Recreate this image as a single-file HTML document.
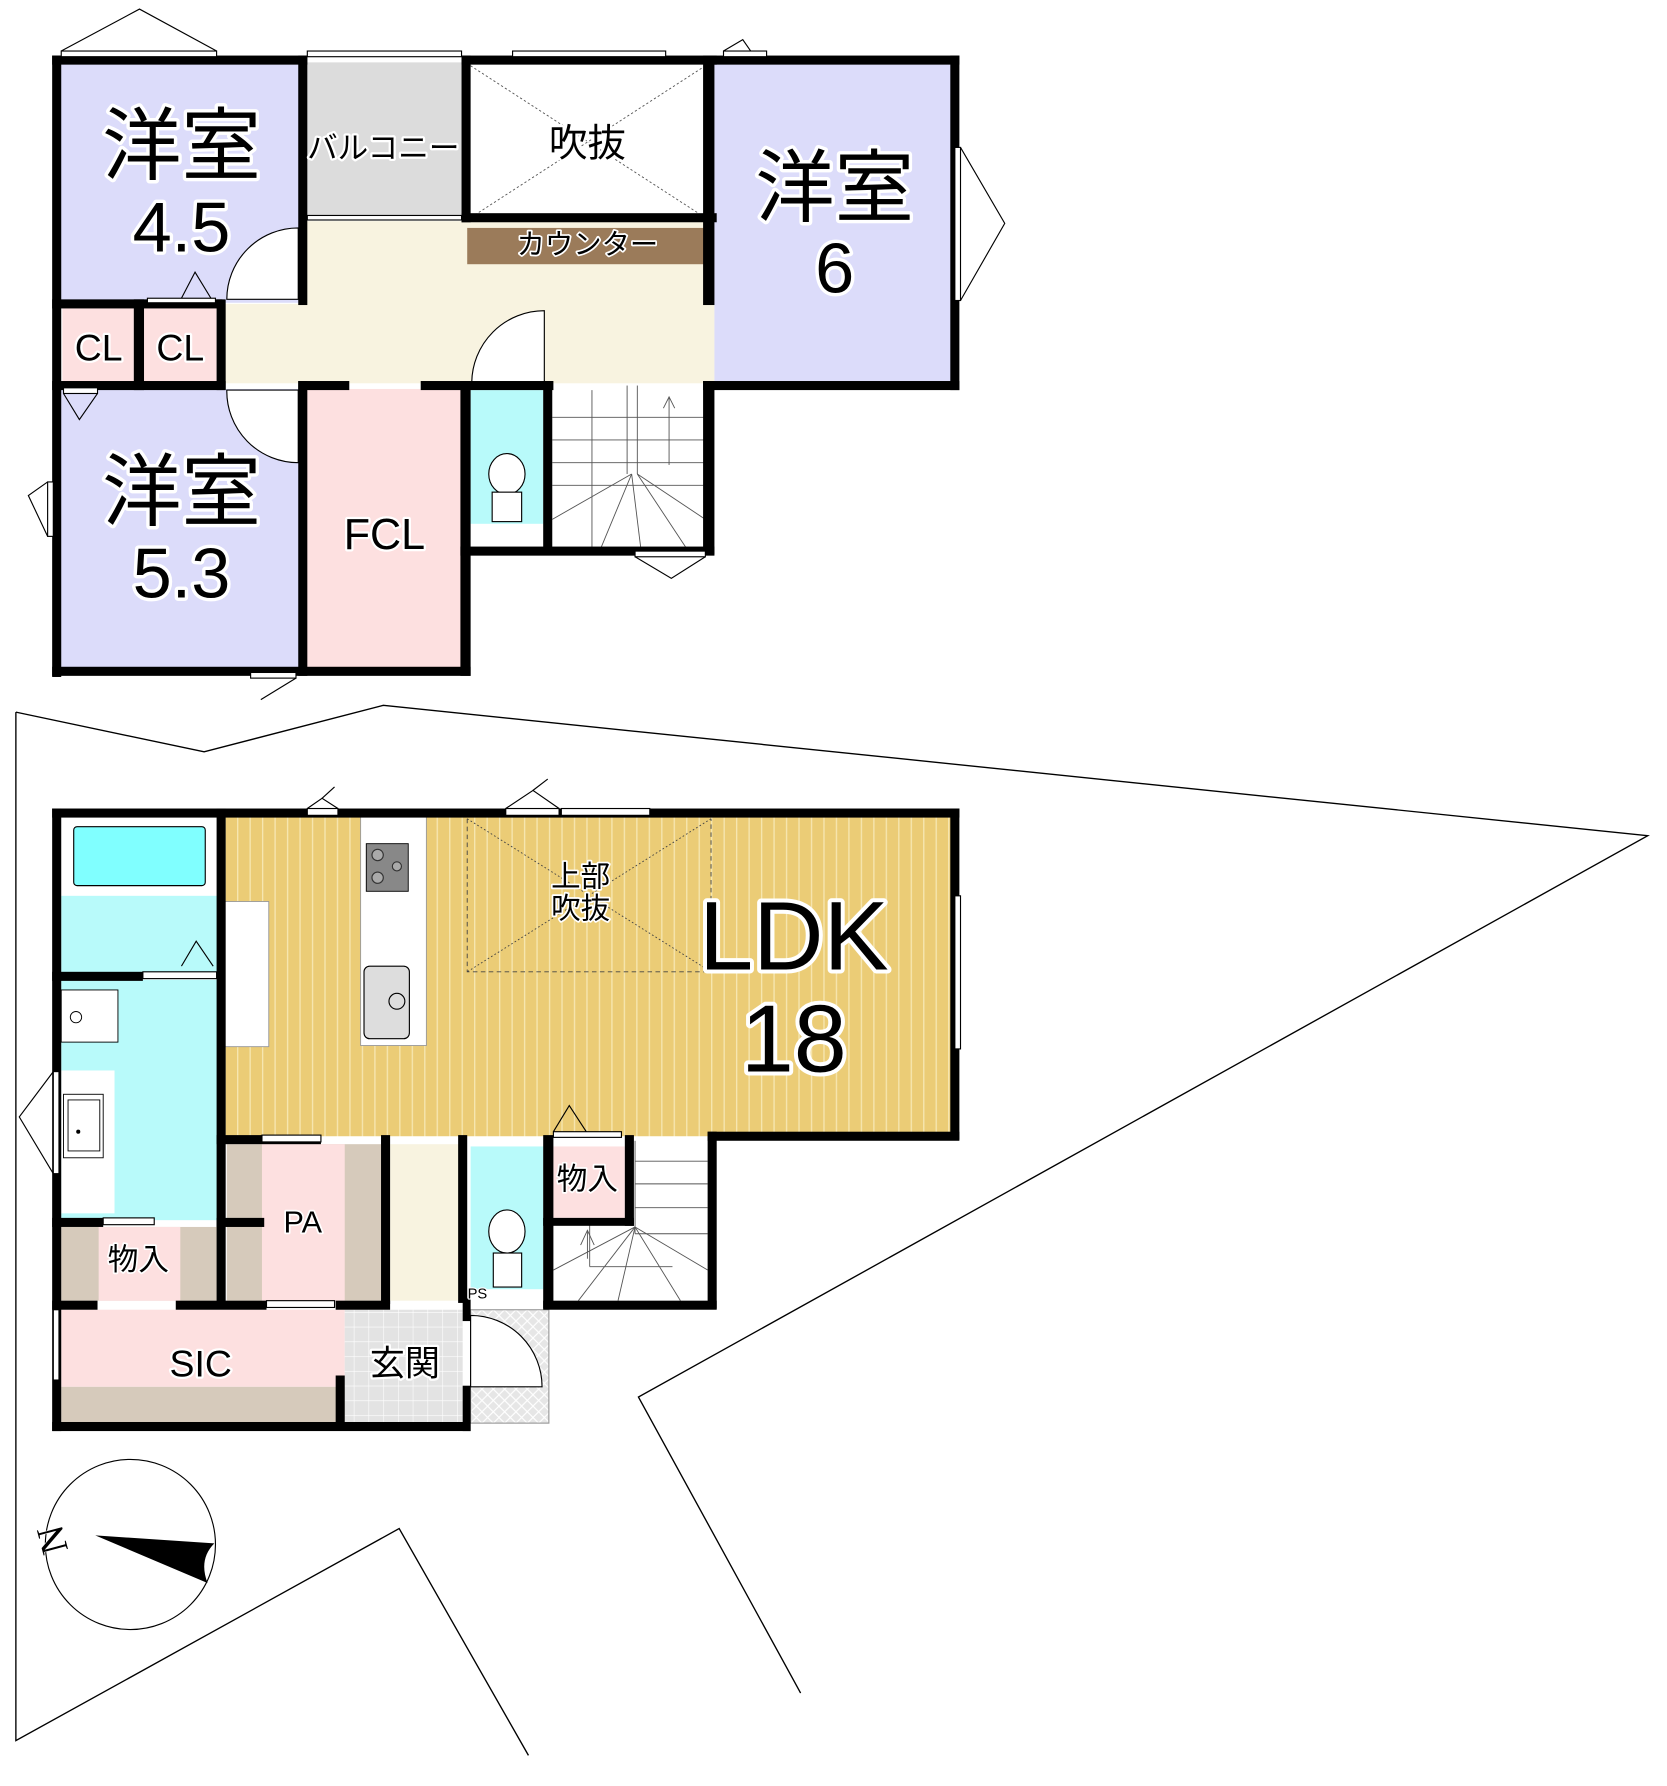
<!DOCTYPE html>
<html><head><meta charset="utf-8"><style>
html,body{margin:0;padding:0;background:#fff;}
svg{display:block;}
text{font-family:"Liberation Sans","Noto Sans CJK JP",sans-serif;fill:#000;paint-order:stroke;stroke:#fff;stroke-linejoin:round;}
</style></head><body>
<svg width="1667" height="1786" viewBox="0 0 1470 1575" preserveAspectRatio="none" xmlns="http://www.w3.org/2000/svg">
<defs>
<pattern id="stripe" width="11" height="10" patternUnits="userSpaceOnUse"><rect width="11" height="10" fill="#ebcc76"/><rect x="0" y="0" width="1.2" height="10" fill="#f6e6b0"/></pattern>
<pattern id="tile" width="13" height="13" patternUnits="userSpaceOnUse"><rect width="13" height="13" fill="#e3e3e3"/><path d="M0 0H13M0 0V13" stroke="#fff" stroke-width="1"/></pattern>
<pattern id="hatch" width="10" height="10" patternUnits="userSpaceOnUse"><rect width="10" height="10" fill="#e6e6e6"/><path d="M0 0L10 10M10 0L0 10" stroke="#fff" stroke-width="1"/></pattern>
</defs>

<g fill="none" stroke="#000" stroke-width="1.2">
<polyline points="14,628 180,663 338,622 1453,737 563,1232 706,1493"/>
<polyline points="14,628 14,1535 352,1348 466,1548"/>
</g>

<!-- ============ UPPER FLOOR ============ -->
<rect x="52" y="55" width="213" height="212" fill="#dcdcfa"/>
<rect x="268" y="55" width="142" height="138" fill="#dcdcdc"/>
<rect x="412" y="55" width="212" height="138" fill="#fff"/>
<rect x="266" y="195" width="364" height="143" fill="#f8f3e0"/>
<rect x="196" y="268" width="80" height="70" fill="#f8f3e0"/>
<rect x="412" y="201" width="212" height="32" fill="#9b7b5a"/>
<rect x="630" y="55" width="212" height="283" fill="#dcdcfa"/>
<rect x="55" y="272" width="63" height="65" fill="#fde0e0"/>
<rect x="127" y="272" width="64" height="65" fill="#fde0e0"/>
<rect x="52" y="343" width="213" height="248" fill="#dcdcfa"/>
<rect x="270" y="343" width="140" height="248" fill="#fde0e0"/>
<rect x="415" y="344" width="64" height="118" fill="#b8fafa"/>
<rect x="415" y="462" width="64" height="22" fill="#fff"/>
<g stroke="#555" stroke-width="0.8" stroke-dasharray="2,2" fill="none">
<line x1="415" y1="58" x2="622" y2="192"/><line x1="622" y1="58" x2="415" y2="192"/>
</g>
<g stroke="#555" stroke-width="0.8" fill="none">
<line x1="487" y1="368" x2="622" y2="368"/><line x1="487" y1="388" x2="622" y2="388"/>
<line x1="487" y1="408" x2="622" y2="408"/><line x1="487" y1="428" x2="622" y2="428"/>
<line x1="522" y1="344" x2="522" y2="483"/><line x1="553" y1="340" x2="553" y2="418"/>
<line x1="562" y1="340" x2="562" y2="418"/>
<line x1="557" y1="418" x2="487" y2="458"/><line x1="557" y1="418" x2="530" y2="483"/>
<line x1="557" y1="418" x2="565" y2="483"/><line x1="562" y1="418" x2="605" y2="483"/>
<line x1="562" y1="418" x2="622" y2="458"/>
<line x1="590" y1="350" x2="590" y2="410"/><path d="M585 360L590 350L595 360"/>
</g>
<ellipse cx="447" cy="418" rx="16" ry="18" fill="#fff" stroke="#000" stroke-width="1"/>
<rect x="434" y="434" width="26" height="26" fill="#fff" stroke="#000" stroke-width="1"/>
<g fill="#fff" stroke="#000" stroke-width="1">
<path d="M263 201 A63 63 0 0 0 200 264 L263 264Z"/>
<path d="M480 274 A64 64 0 0 0 416 338 L480 338Z"/>
<path d="M200 344 A63 63 0 0 0 263 408 L263 344Z"/>
</g>
<g fill="#000">
<rect x="46" y="49" width="8" height="548"/>
<rect x="46" y="49" width="225" height="8"/>
<rect x="263" y="49" width="8" height="220"/>
<rect x="407" y="49" width="225" height="8"/>
<rect x="407" y="49" width="8" height="147"/>
<rect x="407" y="188" width="225" height="8"/>
<rect x="620" y="49" width="10" height="220"/>
<rect x="630" y="49" width="216" height="8"/>
<rect x="838" y="49" width="8" height="295"/>
<rect x="620" y="336" width="226" height="8"/>
<rect x="620" y="336" width="10" height="153"/>
<rect x="46" y="264" width="150" height="8"/>
<rect x="118" y="264" width="9" height="80"/>
<rect x="191" y="264" width="8" height="80"/>
<rect x="46" y="336" width="153" height="8"/>
<rect x="263" y="336" width="8" height="260"/>
<rect x="263" y="336" width="45" height="8"/>
<rect x="371" y="336" width="117" height="8"/>
<rect x="406" y="336" width="9" height="260"/>
<rect x="479" y="336" width="8" height="153"/>
<rect x="406" y="482" width="224" height="8"/>
<rect x="46" y="588" width="369" height="8"/>
</g>
<g fill="#fff" stroke="#000" stroke-width="1">
<rect x="54" y="45" width="137" height="5"/>
<rect x="452" y="45" width="135" height="5"/>
<rect x="638" y="45" width="38" height="5"/>
<rect x="271" y="45" width="136" height="5"/>
<rect x="271" y="190" width="136" height="4"/>
<rect x="842" y="130" width="5" height="135"/>
<rect x="42" y="425" width="5" height="48"/>
<rect x="221" y="593" width="40" height="5"/>
<rect x="560" y="486" width="62" height="5"/>
<rect x="56" y="342" width="30" height="5"/>
<rect x="130" y="263" width="60" height="4"/>
</g>
<g fill="none" stroke="#000" stroke-width="1">
<polyline points="54,45 123,8 191,45"/>
<polyline points="847,130 886,197 847,265"/>
<polyline points="42,425 25,437 42,473"/>
<polyline points="56,347 70,370 86,347"/>
<polyline points="160,263 172,240 186,263"/>
<polyline points="560,491 592,510 622,491"/>
<polyline points="230,617 261,598"/>
<polyline points="638,45 655,35 662,45"/>
</g>
<g text-anchor="middle">
<text x="160" y="153" font-size="70" stroke-width="6">洋室</text>
<text x="160" y="222" font-size="62" stroke-width="6">4.5</text>
<text x="736" y="190" font-size="70" stroke-width="6">洋室</text>
<text x="736" y="258" font-size="62" stroke-width="6">6</text>
<text x="160" y="458" font-size="70" stroke-width="6">洋室</text>
<text x="160" y="527" font-size="62" stroke-width="6">5.3</text>
<text x="338" y="140" font-size="27" stroke-width="4">バルコニー</text>
<text x="518" y="138" font-size="34" stroke-width="4">吹抜</text>
<text x="518" y="224" font-size="25" stroke-width="3">カウンター</text>
<text x="87" y="318" font-size="33" stroke-width="4">CL</text>
<text x="159" y="318" font-size="33" stroke-width="4">CL</text>
<text x="339" y="484" font-size="38" stroke-width="4">FCL</text>
</g>

<!-- ============ LOWER FLOOR ============ -->
<rect x="198" y="720" width="642" height="282" fill="url(#stripe)"/>
<rect x="54" y="720" width="138" height="70" fill="#fff"/>
<rect x="65" y="729" width="116" height="52" rx="3" fill="#80ffff" stroke="#000" stroke-width="1"/>
<rect x="54" y="790" width="138" height="68" fill="#b8fafa"/>
<rect x="54" y="864" width="138" height="212" fill="#b8fafa"/>
<rect x="54" y="873" width="50" height="46" fill="#fff" stroke="#000" stroke-width="0.8"/>
<circle cx="67" cy="897" r="5" fill="#fff" stroke="#000" stroke-width="0.8"/>
<rect x="54" y="944" width="47" height="126" fill="#fff"/>
<rect x="56" y="965" width="35" height="56" fill="#fff" stroke="#000" stroke-width="0.8"/>
<path d="M60 970 H88 V1015 H60 Z" fill="none" stroke="#000" stroke-width="0.8"/>
<circle cx="69" cy="998" r="1.8" fill="#000"/>
<rect x="54" y="1082" width="138" height="65" fill="#d6cabb"/>
<rect x="87" y="1082" width="72" height="65" fill="#fde0e0"/>
<rect x="200" y="1009" width="136" height="138" fill="#d6cabb"/>
<rect x="231" y="1009" width="73" height="138" fill="#fde0e0"/>
<rect x="344" y="1009" width="64" height="138" fill="#f8f3e0"/>
<rect x="415" y="1011" width="64" height="126" fill="#b8fafa"/>
<rect x="415" y="1137" width="64" height="12" fill="#fff"/>
<rect x="488" y="1011" width="63" height="63" fill="#fde0e0"/>
<rect x="54" y="1155" width="250" height="68" fill="#fde0e0"/>
<rect x="54" y="1223" width="250" height="32" fill="#d6cabb"/>
<rect x="304" y="1155" width="104" height="100" fill="url(#tile)"/>
<rect x="415" y="1155" width="69" height="100" fill="url(#hatch)" stroke="#999" stroke-width="1"/>
<path d="M415 1160 A63 63 0 0 1 478 1223 L415 1223Z" fill="#fff" stroke="#000" stroke-width="1"/>
<rect x="198" y="795" width="39" height="128" fill="#fff" stroke="#999" stroke-width="0.8"/>
<rect x="318" y="720" width="58" height="202" fill="#fff" stroke="#999" stroke-width="0.8"/>
<rect x="323" y="744" width="37" height="42" fill="#888" stroke="#000" stroke-width="0.8"/>
<circle cx="333" cy="754" r="5" fill="#aaa" stroke="#333"/><circle cx="333" cy="774" r="5" fill="#aaa" stroke="#333"/><circle cx="350" cy="764" r="4" fill="#aaa" stroke="#333"/>
<rect x="321" y="852" width="40" height="64" rx="5" fill="#ddd" stroke="#000" stroke-width="1"/>
<circle cx="350" cy="883" r="7" fill="#ddd" stroke="#000"/>
<g stroke="#444" stroke-width="0.8" stroke-dasharray="4,3" fill="none">
<path d="M412 722 V857 H627 V722"/>
</g>
<g stroke="#444" stroke-width="0.8" stroke-dasharray="1.5,2" fill="none">
<line x1="412" y1="722" x2="627" y2="857"/><line x1="627" y1="722" x2="412" y2="857"/>
</g>
<g stroke="#555" stroke-width="0.8" fill="none">
<line x1="560" y1="1024" x2="624" y2="1024"/><line x1="560" y1="1044" x2="624" y2="1044"/>
<line x1="560" y1="1065" x2="624" y2="1065"/><line x1="560" y1="1088" x2="624" y2="1088"/>
<line x1="560" y1="1006" x2="560" y2="1088"/>
<line x1="520" y1="1117" x2="593" y2="1117"/><line x1="520" y1="1080" x2="520" y2="1117"/>
<line x1="560" y1="1082" x2="488" y2="1120"/><line x1="560" y1="1082" x2="510" y2="1147"/>
<line x1="560" y1="1082" x2="545" y2="1147"/><line x1="560" y1="1082" x2="600" y2="1147"/>
<line x1="560" y1="1082" x2="624" y2="1120"/>
<line x1="518" y1="1085" x2="518" y2="1110"/><path d="M512 1098L518 1085L524 1098"/>
</g>
<ellipse cx="447" cy="1086" rx="16" ry="19" fill="#fff" stroke="#000" stroke-width="1"/>
<rect x="435" y="1105" width="25" height="30" fill="#fff" stroke="#000" stroke-width="1"/>
<g fill="#000">
<rect x="46" y="713" width="800" height="8"/>
<rect x="46" y="713" width="8" height="549"/>
<rect x="838" y="713" width="8" height="292"/>
<rect x="624" y="998" width="222" height="8"/>
<rect x="624" y="998" width="8" height="156"/>
<rect x="191" y="713" width="8" height="437"/>
<rect x="46" y="857" width="80" height="8"/>
<rect x="46" y="1074" width="45" height="8"/>
<rect x="191" y="1074" width="42" height="8"/>
<rect x="191" y="1001" width="92" height="8"/>
<rect x="336" y="1001" width="8" height="149"/>
<rect x="404" y="1001" width="8" height="148"/>
<rect x="479" y="1001" width="9" height="153"/>
<rect x="551" y="1001" width="8" height="80"/>
<rect x="479" y="1074" width="80" height="7"/>
<rect x="479" y="1147" width="153" height="8"/>
<rect x="46" y="1147" width="40" height="8"/>
<rect x="155" y="1147" width="80" height="8"/>
<rect x="296" y="1147" width="48" height="8"/>
<rect x="296" y="1213" width="8" height="45"/>
<rect x="408" y="1145" width="7" height="20"/>
<rect x="408" y="1222" width="7" height="40"/>
<rect x="46" y="1254" width="369" height="8"/>
</g>
<g fill="#fff" stroke="#000" stroke-width="1">
<rect x="271" y="713" width="27" height="6"/>
<rect x="446" y="713" width="47" height="6"/>
<rect x="495" y="713" width="78" height="6"/>
<rect x="842" y="790" width="5" height="135"/>
<rect x="47" y="945" width="5" height="90"/>
<rect x="47" y="1155" width="5" height="62"/>
<rect x="126" y="857" width="65" height="6"/>
<rect x="91" y="1074" width="45" height="6"/>
<rect x="231" y="1001" width="52" height="6"/>
<rect x="235" y="1147" width="60" height="6"/>
<rect x="488" y="998" width="60" height="5"/>
</g>
<g fill="none" stroke="#000" stroke-width="1">
<polyline points="271,713 284,704 298,713"/>
<polyline points="446,713 470,697 493,713"/>
<line x1="284" y1="704" x2="295" y2="694"/><line x1="470" y1="697" x2="483" y2="687"/>
<polyline points="47,945 17,985 47,1035"/>
<polyline points="160,852 173,830 188,852"/>
<polyline points="488,998 502,975 517,998"/>
</g>
<g text-anchor="middle">
<text x="700" y="855" font-size="86" stroke-width="7">LDK</text>
<text x="700" y="945" font-size="84" stroke-width="7">18</text>
<text x="512" y="782" font-size="26" stroke-width="3">上部</text>
<text x="512" y="810" font-size="26" stroke-width="3">吹抜</text>
<text x="267" y="1087" font-size="27" stroke-width="3">PA</text>
<text x="122" y="1120" font-size="27" stroke-width="3">物入</text>
<text x="518" y="1049" font-size="27" stroke-width="3">物入</text>
<text x="177" y="1214" font-size="33" stroke-width="4">SIC</text>
<text x="357" y="1213" font-size="31" stroke-width="4">玄関</text>
<text x="421" y="1145" font-size="13" stroke-width="2">PS</text>
</g>

<circle cx="115" cy="1362" r="75" fill="none" stroke="#000" stroke-width="1"/>
<path d="M84 1354 L189 1361 Q175 1375 183 1396 Z" fill="#000"/>
<text x="57" y="1355" font-size="34" stroke="none" text-anchor="middle" transform="rotate(-105 57 1355)" style="font-family:'Liberation Serif',serif">N</text>
</svg>
</body></html>
